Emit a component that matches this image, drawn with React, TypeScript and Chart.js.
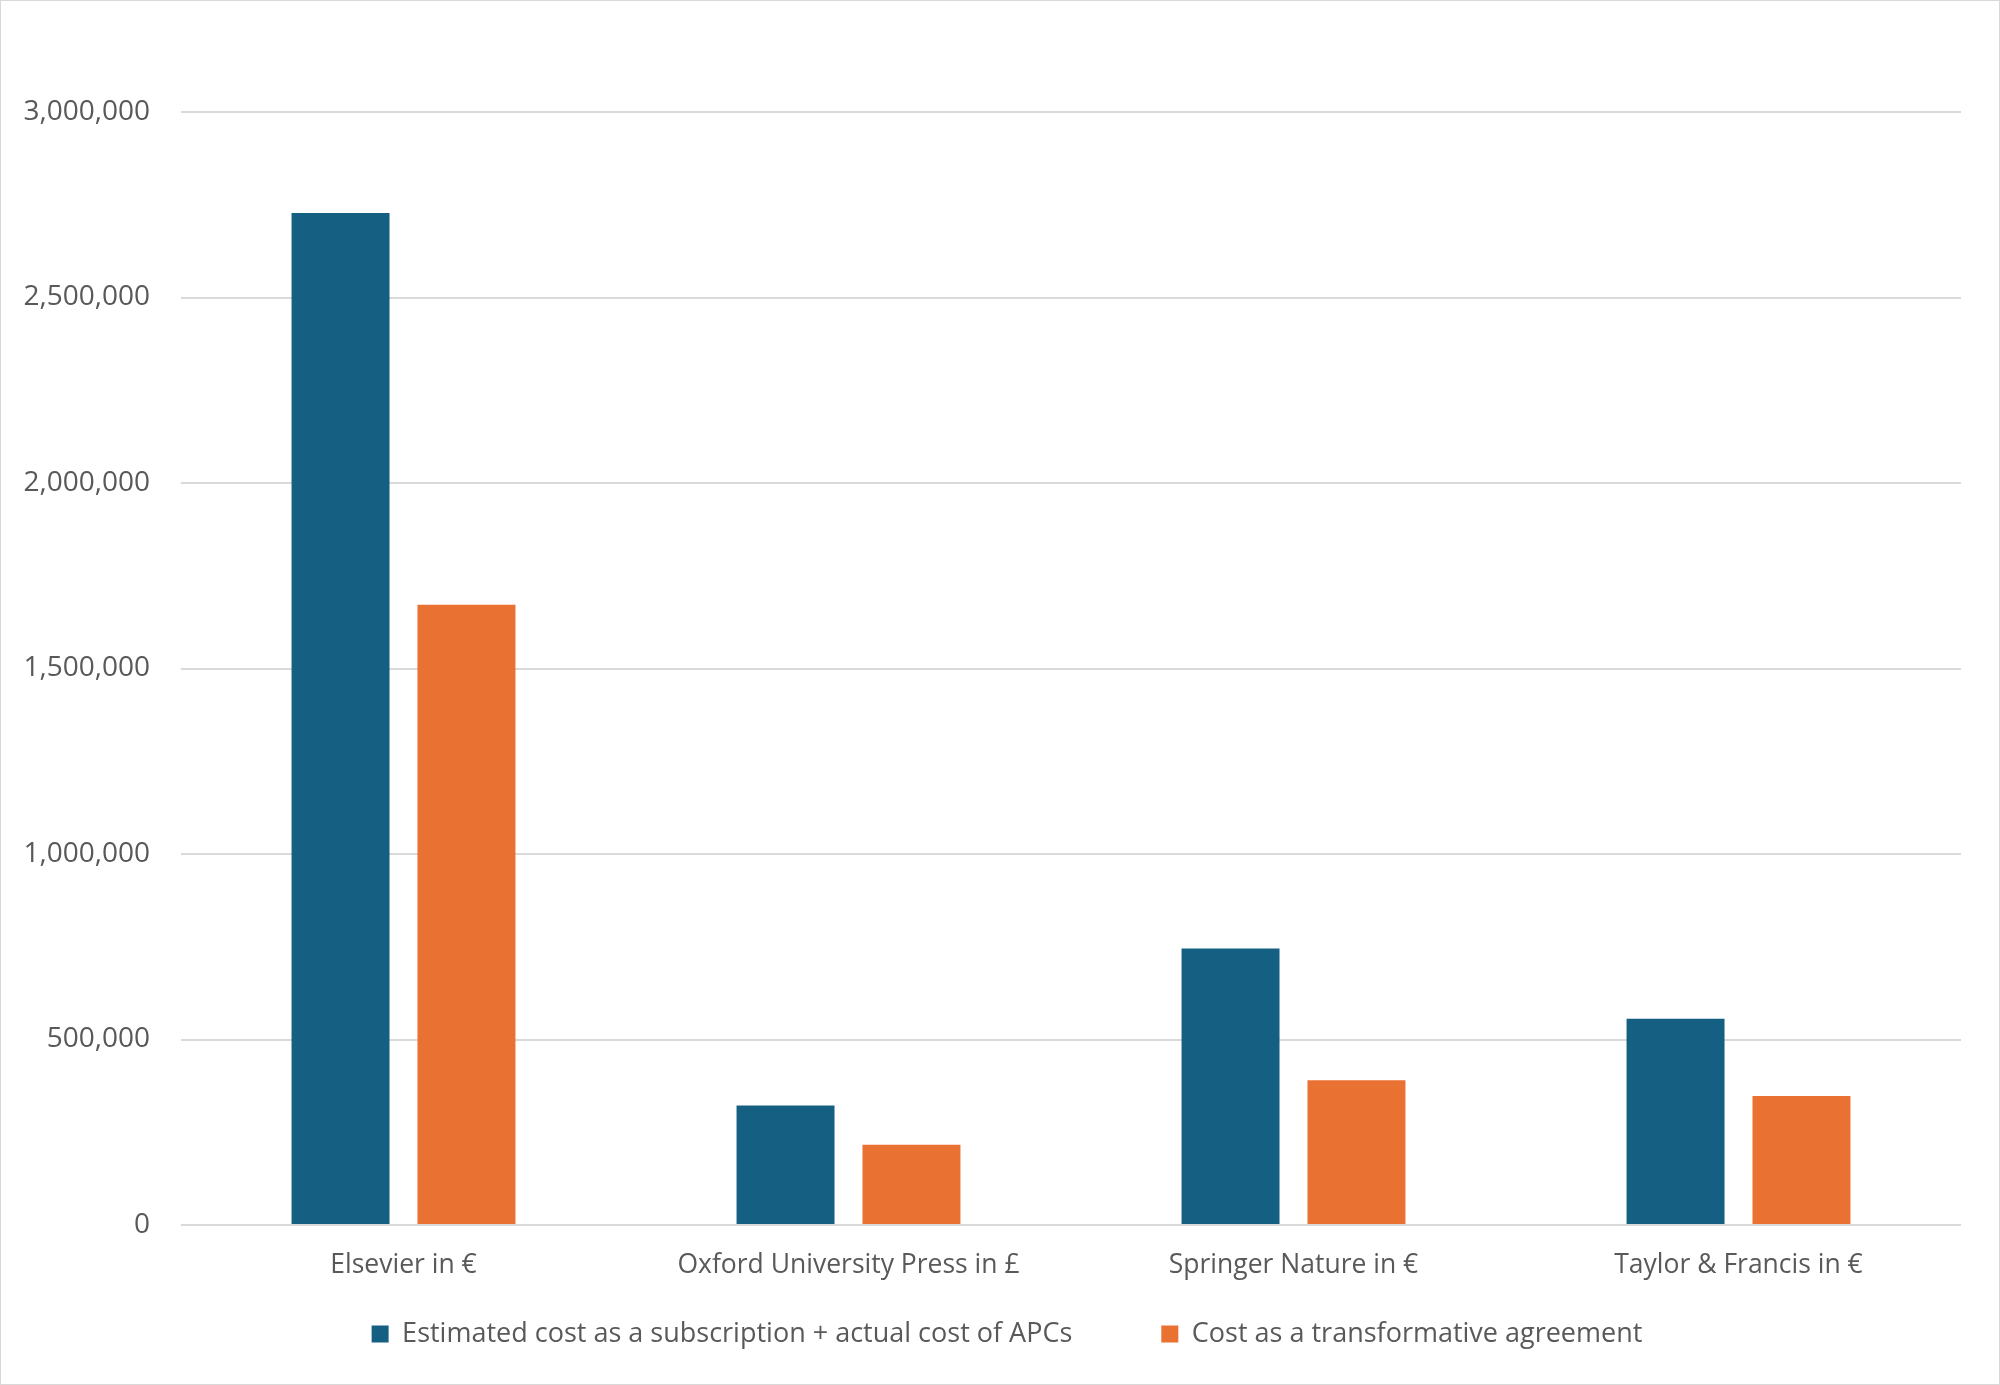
import { useEffect, useRef } from 'react';
import { Chart, registerables } from 'chart.js';
Chart.register(...registerables);

const categories = ['Elsevier in €', 'Oxford University Press in £', 'Springer Nature in €', 'Taylor & Francis in €'];
const subscriptionPlusApc = [2728000, 322000, 745000, 556000];
const transformativeAgreement = [1672000, 216000, 390000, 348000];
const seriesNames = ['Estimated cost as a subscription + actual cost of APCs', 'Cost as a transformative agreement'];
const yTicks = [0, 500000, 1000000, 1500000, 2000000, 2500000, 3000000];

const W = 1998;
const H = 1383;
const FONT = '"Open Sans", "Noto Sans", sans-serif';
const TEXT = '#595959';

export default function App() {
  const ref = useRef<HTMLCanvasElement | null>(null);
  useEffect(() => {
    document.body.style.margin = '0';
    if (!ref.current) return;
    const ctx = ref.current.getContext('2d');
    if (!ctx) return;
    const chart = new Chart(ctx, {
      type: 'bar',
      data: {
        labels: categories,
        datasets: [
          { label: seriesNames[0], data: subscriptionPlusApc, backgroundColor: '#156082', borderWidth: 0 },
          { label: seriesNames[1], data: transformativeAgreement, backgroundColor: '#E97132', borderWidth: 0 },
        ],
      },
      options: {
        animation: false,
        responsive: false,
        devicePixelRatio: 1,
        categoryPercentage: 0.566,
        barPercentage: 0.778,
        // left padding only nudges the centred legend; the y axis keeps the plot at x=180
        layout: { padding: { top: 111, right: 38, bottom: 26.5, left: 52 } },
        plugins: {
          tooltip: { enabled: false },
          legend: {
            position: 'bottom',
            labels: { font: { family: FONT, size: 27 }, color: TEXT, boxWidth: 17, boxHeight: 17, padding: 89 },
          },
        },
        scales: {
          x: {
            grid: { display: false, drawTicks: false },
            border: { display: false },
            ticks: { font: { family: FONT, size: 26.5 }, color: TEXT, padding: 25, maxRotation: 0, autoSkip: false },
            afterFit: (s: any) => {
              s.height = 6.5;
              // the labels sit below the thin axis box, so don't clip them to it
              s._computeLabelArea = () => undefined;
            },
          },
          y: {
            min: 0,
            max: 3000000,
            grid: { color: '#d9d9d9', lineWidth: 2, drawTicks: false },
            border: { display: false },
            afterBuildTicks: (s: any) => { s.ticks = yTicks.map((value) => ({ value })); },
            ticks: {
              font: { family: FONT, size: 28 },
              color: TEXT,
              padding: 31,
              callback: (v: any) => Number(v).toLocaleString('en-US'),
            },
            afterFit: (s: any) => {
              s.width = 128;
              s._computeLabelArea = () => undefined;
            },
          },
        },
      },
    });
    return () => chart.destroy();
  }, []);
  return (
    <div style={{ width: 2000, height: 1385, boxSizing: 'border-box', border: '1px solid #d9d9d9', background: '#fff' }}>
      <canvas ref={ref} width={W} height={H} style={{ display: 'block', width: W, height: H }} />
    </div>
  );
}
